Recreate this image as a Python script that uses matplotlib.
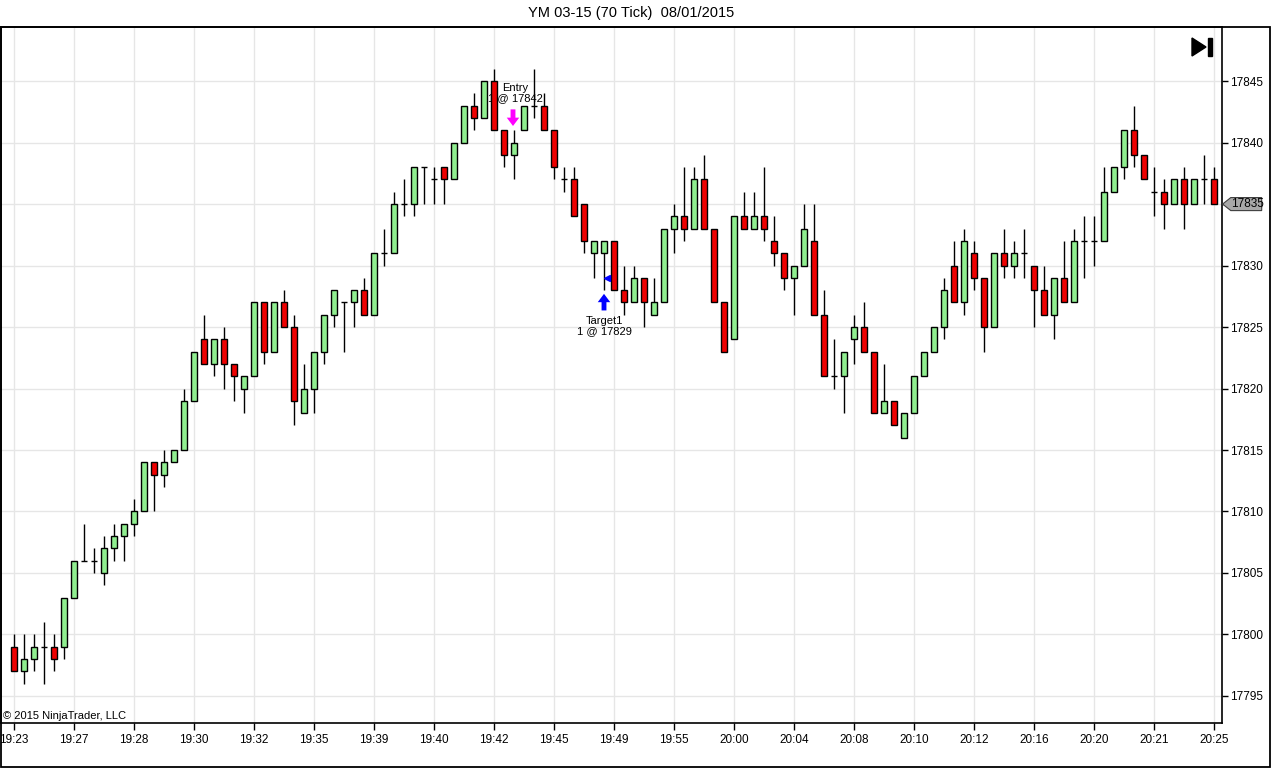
import matplotlib
matplotlib.use("Agg")
import matplotlib.pyplot as plt
import matplotlib.patches as mpatches
from matplotlib.transforms import Affine2D, blended_transform_factory

plt.rcParams['font.family'] = ['Liberation Sans', 'DejaVu Sans']

# ──────── Data (70 tick bars) ────────
opens = [17799, 17797, 17798, 17799, 17799, 17799, 17803, 17806, 17806, 17805,
         17807, 17808, 17809, 17810, 17814, 17813, 17814, 17815, 17819, 17824,
         17822, 17824, 17822, 17820, 17821, 17827, 17823, 17827, 17825, 17818,
         17820, 17823, 17826, 17827, 17827, 17828, 17826, 17831, 17831, 17835,
         17835, 17838, 17837, 17838, 17837, 17840, 17843, 17842, 17845, 17841,
         17839, 17841, 17843, 17843, 17841, 17837, 17837, 17835, 17831, 17831,
         17832, 17828, 17827, 17829, 17826, 17827, 17833, 17834, 17833, 17837,
         17833, 17827, 17824, 17834, 17833, 17834, 17832, 17831, 17829, 17830,
         17832, 17826, 17821, 17821, 17824, 17825, 17823, 17818, 17819, 17816,
         17818, 17821, 17823, 17825, 17830, 17827, 17831, 17829, 17825, 17831,
         17830, 17831, 17830, 17828, 17826, 17829, 17827, 17832, 17832, 17832,
         17836, 17838, 17841, 17839, 17836, 17836, 17835, 17837, 17835, 17837,
         17837]
highs = [17800, 17800, 17800, 17801, 17800, 17803, 17806, 17809, 17807, 17808,
         17809, 17809, 17811, 17814, 17814, 17815, 17815, 17820, 17823, 17826,
         17824, 17825, 17822, 17821, 17827, 17827, 17827, 17828, 17826, 17822,
         17823, 17826, 17828, 17827, 17828, 17829, 17831, 17833, 17836, 17837,
         17838, 17838, 17838, 17838, 17840, 17843, 17844, 17845, 17846, 17841,
         17841, 17843, 17846, 17844, 17841, 17838, 17838, 17835, 17832, 17832,
         17832, 17830, 17830, 17829, 17829, 17833, 17835, 17838, 17838, 17839,
         17833, 17827, 17834, 17836, 17836, 17838, 17834, 17831, 17830, 17835,
         17835, 17828, 17824, 17823, 17826, 17827, 17823, 17822, 17819, 17818,
         17821, 17823, 17825, 17829, 17832, 17833, 17832, 17829, 17831, 17833,
         17832, 17833, 17830, 17830, 17829, 17832, 17833, 17834, 17834, 17838,
         17838, 17841, 17843, 17839, 17838, 17837, 17837, 17838, 17837, 17839,
         17838]
lows = [17797, 17796, 17797, 17796, 17797, 17798, 17803, 17806, 17805, 17804,
        17806, 17806, 17808, 17810, 17810, 17812, 17814, 17815, 17819, 17822,
        17821, 17820, 17819, 17818, 17821, 17822, 17823, 17825, 17817, 17818,
        17818, 17822, 17825, 17823, 17825, 17826, 17826, 17830, 17831, 17834,
        17834, 17835, 17835, 17835, 17837, 17840, 17841, 17842, 17841, 17838,
        17837, 17841, 17842, 17841, 17837, 17836, 17834, 17831, 17829, 17828,
        17828, 17826, 17827, 17825, 17826, 17827, 17831, 17832, 17833, 17833,
        17827, 17823, 17824, 17833, 17833, 17832, 17830, 17828, 17826, 17830,
        17826, 17821, 17820, 17818, 17822, 17823, 17818, 17818, 17817, 17816,
        17818, 17821, 17823, 17824, 17827, 17826, 17828, 17823, 17825, 17829,
        17829, 17829, 17825, 17826, 17824, 17827, 17827, 17829, 17830, 17832,
        17836, 17837, 17838, 17837, 17834, 17833, 17835, 17833, 17835, 17835,
        17835]
closes = [17797, 17798, 17799, 17799, 17798, 17803, 17806, 17806, 17806, 17807,
          17808, 17809, 17810, 17814, 17813, 17814, 17815, 17819, 17823, 17822,
          17824, 17822, 17821, 17821, 17827, 17823, 17827, 17825, 17819, 17820,
          17823, 17826, 17828, 17827, 17828, 17826, 17831, 17831, 17835, 17835,
          17838, 17838, 17837, 17837, 17840, 17843, 17842, 17845, 17841, 17839,
          17840, 17843, 17843, 17841, 17838, 17837, 17834, 17832, 17832, 17832,
          17828, 17827, 17829, 17827, 17827, 17833, 17834, 17833, 17837, 17833,
          17827, 17823, 17834, 17833, 17834, 17833, 17831, 17829, 17830, 17833,
          17826, 17821, 17821, 17823, 17825, 17823, 17818, 17819, 17817, 17818,
          17821, 17823, 17825, 17828, 17827, 17832, 17829, 17825, 17831, 17830,
          17831, 17831, 17828, 17826, 17829, 17827, 17832, 17832, 17832, 17836,
          17838, 17841, 17839, 17837, 17836, 17835, 17837, 17835, 17837, 17837,
          17835]

time_labels = ["19:23", "19:27", "19:28", "19:30", "19:32", "19:35", "19:39",
               "19:40", "19:42", "19:45", "19:49", "19:55", "20:00", "20:04",
               "20:08", "20:10", "20:12", "20:16", "20:20", "20:21", "20:25"]
LABEL_EVERY = 6
price_ticks = [17795, 17800, 17805, 17810, 17815, 17820,
               17825, 17830, 17835, 17840, 17845]

entry_bar, entry_price = 50, 17842
target_bar, target_price = 59, 17829

UP = "#90ee90"
DOWN = "#ee0000"
W, H = 1271, 769

# ──────── Figure ────────
fig = plt.figure(figsize=(W / 100, H / 100), dpi=100)
ax = fig.add_axes([1 / W, (H - 723) / H, 1221 / W, (723 - 27) / H])
px = Affine2D().scale(1 / W, -1 / H).translate(0, 1) + fig.transFigure

n = len(opens)
xs = list(range(n))
ax.vlines(xs, lows, highs, color="black", lw=1, zorder=2)
for i in xs:
    o, c = opens[i], closes[i]
    if o == c:
        ax.hlines(o, i - 0.33, i + 0.33, color="black", lw=1, zorder=3)
    else:
        ax.bar(i, abs(c - o), bottom=min(o, c), width=0.62,
               color=UP if c > o else DOWN, edgecolor="black", lw=1, zorder=3)

ax.set_xlim(-1.3, 120.8)
ax.set_ylim(17792.8, 17849.4)

ax.set_xticks(xs[::LABEL_EVERY])
ax.set_xticklabels(time_labels, fontsize=8.5)
ax.yaxis.tick_right()
ax.set_yticks(price_ticks)
ax.set_yticklabels([str(p) for p in price_ticks], fontsize=8.5)
ax.tick_params(axis="x", direction="out", length=5, width=1, pad=3)
ax.tick_params(axis="y", direction="out", length=4, width=1, pad=2)
ax.grid(True, color="#e6e6e6", lw=1, zorder=0)
ax.set_axisbelow(True)
for s in ax.spines.values():
    s.set_color("black"); s.set_linewidth(1.2)

# ──────── Trade markers ────────
arrow = dict(arrowstyle="simple,head_length=0.6,head_width=0.9,tail_width=0.35",
             lw=0, mutation_scale=10, shrinkA=0, shrinkB=0)
ax.text(entry_bar + 0.1, entry_price + 2.0, "Entry\n1 @ %d" % entry_price,
        ha="center", va="center", fontsize=8, linespacing=1.0, zorder=1.5)
ax.annotate("", xy=(entry_bar - 0.1, highs[entry_bar] + 0.35),
            xytext=(entry_bar - 0.1, highs[entry_bar] + 1.7),
            arrowprops=dict(arrow, color="#ff00ff"), zorder=4)
ax.text(target_bar, lows[target_bar] - 2.9, "Target1\n1 @ %d" % target_price,
        ha="center", va="center", fontsize=8, linespacing=1.0, zorder=1.5)
ax.annotate("", xy=(target_bar, lows[target_bar] - 0.3),
            xytext=(target_bar, lows[target_bar] - 1.65),
            arrowprops=dict(arrow, color="#0000ff"), zorder=4)
ax.plot(target_bar + 0.3, target_price, marker="<", ms=4, color="#0000ff",
        mec="#0000ff", zorder=4)

# ──────── Last price tag ────────
last = closes[-1]
bt = blended_transform_factory(ax.transAxes, ax.transData)
tag = mpatches.Polygon([(1.0005, last), (1.0072, last + 0.53), (1.0325, last + 0.53),
                        (1.0325, last - 0.53), (1.0072, last - 0.53)],
                       closed=True, facecolor="#a8a8a8", edgecolor="#404040",
                       lw=0.8, transform=bt, clip_on=False, zorder=5)
ax.add_patch(tag)
ax.text(1.0205, last, str(last), transform=bt, ha="center", va="center",
        fontsize=8.5, clip_on=False, zorder=6)

# ──────── Chrome ────────
fig.patches.append(mpatches.Rectangle((0.5, 27), 1269, 740, fill=False,
                                      edgecolor="black", lw=1.3, transform=px))
fig.patches.append(mpatches.Polygon([(1192, 38), (1206, 47), (1192, 56)],
                                    closed=True, color="black", transform=px))
fig.patches.append(mpatches.Rectangle((1207.5, 38), 4.5, 18, color="black",
                                      transform=px))
fig.text(631 / W, 1 - 13 / H, "YM 03-15 (70 Tick)  08/01/2015",
         ha="center", va="center", fontsize=10.5)
fig.text(3 / W, 1 - 716 / H, "\u00a9 2015 NinjaTrader, LLC",
         ha="left", va="center", fontsize=8)

fig.savefig("out.png", dpi=100)
